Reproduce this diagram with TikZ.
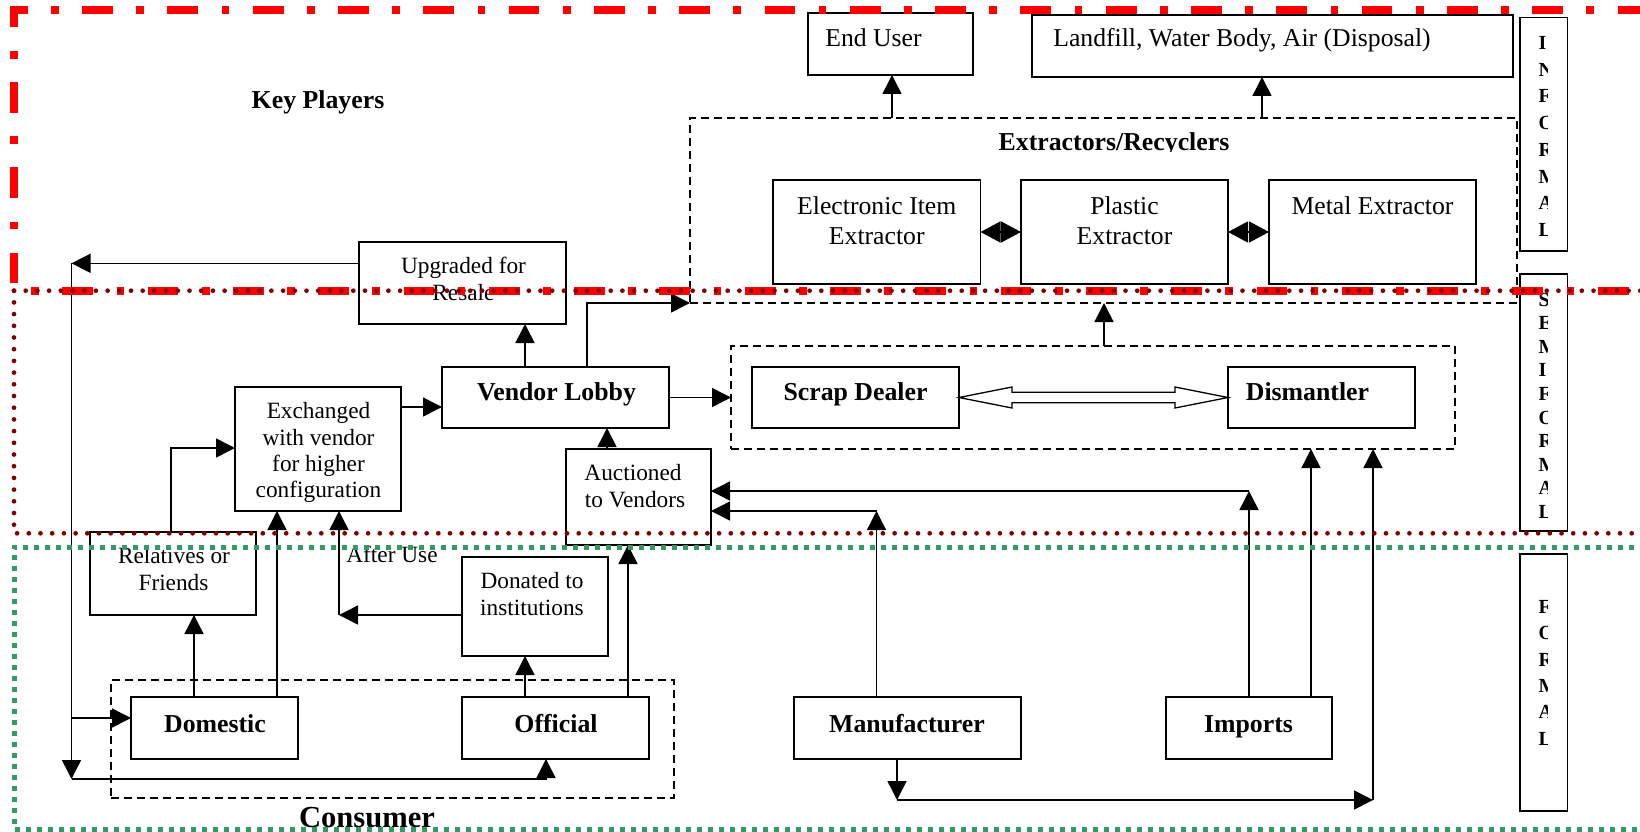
\documentclass[tikz,border=0pt]{standalone}
\usepackage{fontspec}
\setmainfont{Liberation Serif}
\usetikzlibrary{arrows.meta}
\definecolor{zoneRed}{RGB}{255,0,0}
\definecolor{zoneDarkRed}{RGB}{128,0,0}
\definecolor{zoneGreen}{RGB}{51,153,102}
\begin{document}
\begin{tikzpicture}[x=1pt,y=-1pt,
  plainbox/.style={draw=black, line width=1.6pt, inner sep=0pt, outer sep=0pt},
  dashbox/.style={draw=black, line width=1.1pt, dash pattern=on 8pt off 5pt, inner sep=0pt, outer sep=0pt},
  arr/.style={draw=black, line width=1.5pt, -{Triangle[length=19pt,width=19pt]}},
  twinarr/.style={draw=black, line width=1.5pt, {Triangle[length=20pt,width=21pt]}-{Triangle[length=20pt,width=21pt]}},
  hollowarr/.style={draw=black, line width=1.3pt, fill=white, line join=miter},
  txt/.style={anchor=base, inner sep=0pt, font=\fontsize{23.3pt}{27pt}\selectfont},
  txtL/.style={anchor=base, inner sep=0pt, font=\fontsize{25.7pt}{30pt}\selectfont},
  boldtxt/.style={anchor=base, inner sep=0pt, font=\fontsize{25.8pt}{30pt}\selectfont\bfseries},
  vlet/.style={anchor=base west, inner sep=0pt, font=\fontsize{20pt}{22pt}\selectfont\bfseries},
]
\useasboundingbox (0,0) rectangle (1640,832);
\fill[white] (0,0) rectangle (1640,832);

% ---------- boxes ----------
\node[plainbox, minimum width=165pt, minimum height=62pt] (endu) at (890.5,44) {};
\node[plainbox, minimum width=481pt, minimum height=62pt] (land) at (1272.5,46) {};
\node[dashbox, minimum width=827pt, minimum height=185pt] (extr) at (1103.5,210.5) {};
\node[plainbox, minimum width=207.5pt, minimum height=104pt] (elec) at (876.75,232) {};
\node[plainbox, minimum width=207pt, minimum height=104pt] (plas) at (1124.5,232) {};
\node[plainbox, minimum width=207pt, minimum height=104pt] (metal) at (1372.5,232) {};
\node[plainbox, minimum width=207pt, minimum height=82pt] (upg) at (462.5,283) {};
\node[plainbox, minimum width=227pt, minimum height=61pt] (vl) at (555.5,397.5) {};
\node[dashbox, minimum width=724pt, minimum height=103pt] (sd) at (1093,397.5) {};
\node[plainbox, minimum width=207pt, minimum height=61pt] (scrap) at (855.5,397.5) {};
\node[plainbox, minimum width=187pt, minimum height=61pt] (dism) at (1321.5,397.5) {};
\node[plainbox, minimum width=166pt, minimum height=124pt] (exch) at (318,449) {};
\node[plainbox, minimum width=145pt, minimum height=96pt] (auct) at (638.5,497) {};
\node[plainbox, minimum width=166pt, minimum height=83pt] (rel) at (173,573.5) {};
\node[plainbox, minimum width=146pt, minimum height=99pt] (don) at (535,606.5) {};
\node[dashbox, minimum width=563pt, minimum height=118pt] (cons) at (392.5,739) {};
\node[plainbox, minimum width=167pt, minimum height=62pt] (dom) at (214.5,728) {};
\node[plainbox, minimum width=187pt, minimum height=62pt] (off) at (555.5,728) {};
\node[plainbox, minimum width=227pt, minimum height=62pt] (manu) at (907.5,728) {};
\node[plainbox, minimum width=166pt, minimum height=62pt] (imp) at (1249,728) {};
\node[plainbox, minimum width=47.5pt, minimum height=233.5pt] (vinf) at (1543.75,134.25) {};
\node[plainbox, minimum width=47.5pt, minimum height=257pt] (vsemi) at (1543.75,402.5) {};
\node[plainbox, minimum width=47.5pt, minimum height=257pt] (vform) at (1543.75,682.5) {};

% ---------- junction points ----------
\coordinate (loopTop) at (71.5,263.3);
\coordinate (loopMid) at (71.5,718);
\coordinate (loopBot) at (71.5,779);
\coordinate (useCorner) at (339,615);
\coordinate (mJoin) at (876.5,511);
\coordinate (iJoin) at (1249,491);
\coordinate (bJoinA) at (897,800);
\coordinate (bJoinB) at (1373,800);

% ---------- connectors ----------
\draw[arr] ([yshift=19.7pt]upg.west) -- (loopTop);
\draw[arr] (loopTop) -- (loopBot);
\draw[arr] (loopBot) -| ([xshift=-9.5pt]off.south);
\draw[arr] (loopMid) -- (dom.west |- loopMid);
\draw[arr] ([xshift=-20.5pt]dom.north) -- ([xshift=21pt]rel.south);
\draw[arr] ([xshift=62.5pt]dom.north) -- ([xshift=-41pt]exch.south);
\draw[arr] ([xshift=-2pt]rel.north) |- ([yshift=1pt]exch.west);
\draw[arr] ([yshift=-8.5pt]don.west) -- (useCorner);
\draw[arr] (useCorner) -- (exch.south -| useCorner);
\draw[arr] ([xshift=-30.5pt]off.north) -- ([xshift=-10pt]don.south);
\draw[arr] ([xshift=72.5pt]off.north) -- ([xshift=-10.5pt]auct.south);
\draw[arr] ([xshift=-31.5pt]auct.north) -- ([xshift=51.5pt]vl.south);
\draw[arr] ([yshift=42pt]exch.east) -- ([yshift=-9.5pt]vl.west);
\draw[arr] ([xshift=-30.5pt]vl.north) -- ([xshift=62.5pt]upg.south);
\draw[arr] ([xshift=31.5pt]vl.north) |- (extr.south west);
\draw[arr] (vl.east) -- (sd.west);
\draw[hollowarr] (scrap.east) -- ++(53,-10.5) -- ++(0,5.2)
  -- ([shift={(-53,-5.3)}]dism.west) -- ++(0,-5.2) -- (dism.west)
  -- ++(-53,10.5) -- ++(0,-5.2) -- ([shift={(53,5.3)}]scrap.east)
  -- ++(0,5.2) -- cycle;
\draw[arr] ([xshift=11pt]sd.north) -- ([xshift=0.5pt]extr.south);
\draw[arr] ([xshift=-211.5pt]extr.north) -- ([xshift=1.5pt]endu.south);
\draw[arr] ([xshift=158.5pt]extr.north) -- ([xshift=-10.5pt]land.south);
\draw[twinarr] (elec.east) -- (plas.west);
\draw[twinarr] (plas.east) -- (metal.west);
\draw[arr] ([xshift=-31pt]manu.north) -- (mJoin);
\draw[arr] (mJoin) -- (auct.east |- mJoin);
\draw[arr] (imp.north) -- (iJoin);
\draw[arr] (iJoin) -- (auct.east |- iJoin);
\draw[arr] ([xshift=62pt]imp.north) -- ([xshift=218pt]sd.south);
\draw[arr] ([xshift=-10.5pt]manu.south) -- (bJoinA);
\draw[arr] (bJoinA) -- (bJoinB);
\draw[arr] (bJoinB) -- (sd.south -| bJoinB);

% ---------- texts ----------
\node[boldtxt] (keyp) at (318,109) {Key Players};
\node[txtL] (endu-t) at (873.5,47) {End User};
\node[txtL] (land-t) at (1242,47) {Landfill, Water Body, Air (Disposal)};
\begin{scope}
  \clip (900,100) rectangle (1330,151.6);
  \node[boldtxt] (extr-t) at (1114,150.7) {Extractors/Recyclers};
\end{scope}
\node[txtL] (elec-t1) at (876.75,214) {Electronic Item};
\node[txtL] (elec-t2) at (876.75,244) {Extractor};
\node[txtL] (plas-t1) at (1124.5,214) {Plastic};
\node[txtL] (plas-t2) at (1124.5,244) {Extractor};
\node[txtL] (metal-t) at (1372.5,214) {Metal Extractor};
\node[txt] (upg-t1) at (463.5,273) {Upgraded for};
\node[txt] (upg-t2) at (463.5,300) {Resale};
\node[boldtxt] (vl-t) at (556.5,400) {Vendor Lobby};
\node[boldtxt] (scrap-t) at (855.5,400) {Scrap Dealer};
\node[boldtxt] (dism-t) at (1307.5,400.5) {Dismantler};
\node[txt] (exch-t1) at (318.5,418) {Exchanged};
\node[txt] (exch-t2) at (318.5,445) {with vendor};
\node[txt] (exch-t3) at (318.5,471) {for higher};
\node[txt] (exch-t4) at (318.5,497) {configuration};
\node[txt] (auct-t1) at (633,480) {Auctioned};
\node[txt] (auct-t2) at (635,507) {to Vendors};
\node[txt] (rel-t1) at (174,563) {Relatives or};
\node[txt] (rel-t2) at (173.5,590) {Friends};
\node[txt] (after-t) at (392,562) {After Use};
\node[txt] (don-t1) at (532,588) {Donated to};
\node[txt] (don-t2) at (532,615) {institutions};
\node[boldtxt] (dom-t) at (215,732) {Domestic};
\node[boldtxt] (off-t) at (556,732) {Official};
\node[boldtxt, font=\fontsize{30.6pt}{34pt}\selectfont\bfseries] (cons-t) at (367,827) {Consumer};
\node[boldtxt] (manu-t) at (907,732) {Manufacturer};
\node[boldtxt] (imp-t) at (1248.5,732) {Imports};

% ---------- sector labels, one letter per line ----------
\begin{scope}
  \clip (1520,0) rectangle (1547.5,832);
  \foreach \ch [count=\i] in {I,N,F,O,R,M,A,L}
    \node[vlet] (inf-\i) at (1538.5,{49.5+26.7*(\i-1)}) {\ch};
  \foreach \ch [count=\i] in {S,E,M,I,F,O,R,M,A,L}
    \node[vlet] (semi-\i) at (1538.5,{306+23.6*(\i-1)}) {\ch};
  \foreach \ch [count=\i] in {F,O,R,M,A,L}
    \node[vlet] (form-\i) at (1538.5,{613.5+26.3*(\i-1)}) {\ch};
\end{scope}

% ---------- sector boundaries ----------
\begin{scope}
  \clip (0,0) rectangle (1640,832);
  \draw[zoneRed, line width=7.7pt, dash pattern=on 30.8pt off 23.4pt on 7.7pt off 23.4pt, dash phase=78pt]
    (14,290.7) -- (14,10.3) -- (1700,10.3);
  \draw[zoneRed, line width=7.7pt, dash pattern=on 30.8pt off 23.4pt on 7.7pt off 23.4pt, dash phase=37pt]
    (14,290.7) -- (1700,290.7);
  \draw[zoneDarkRed, line width=4.7pt, line cap=round, dash pattern=on 0pt off 11.7pt]
    (14,290.7) -- (1700,290.7);
  \draw[zoneDarkRed, line width=4.7pt, line cap=round, dash pattern=on 0pt off 11.7pt]
    (14,290.7) -- (14,533.3) -- (1700,533.3);
  \draw[zoneGreen, line width=5pt, dash pattern=on 5pt off 6pt]
    (1700,547.3) -- (14,547.3) -- (14,829) -- (1700,829);
\end{scope}
\end{tikzpicture}
\end{document}
